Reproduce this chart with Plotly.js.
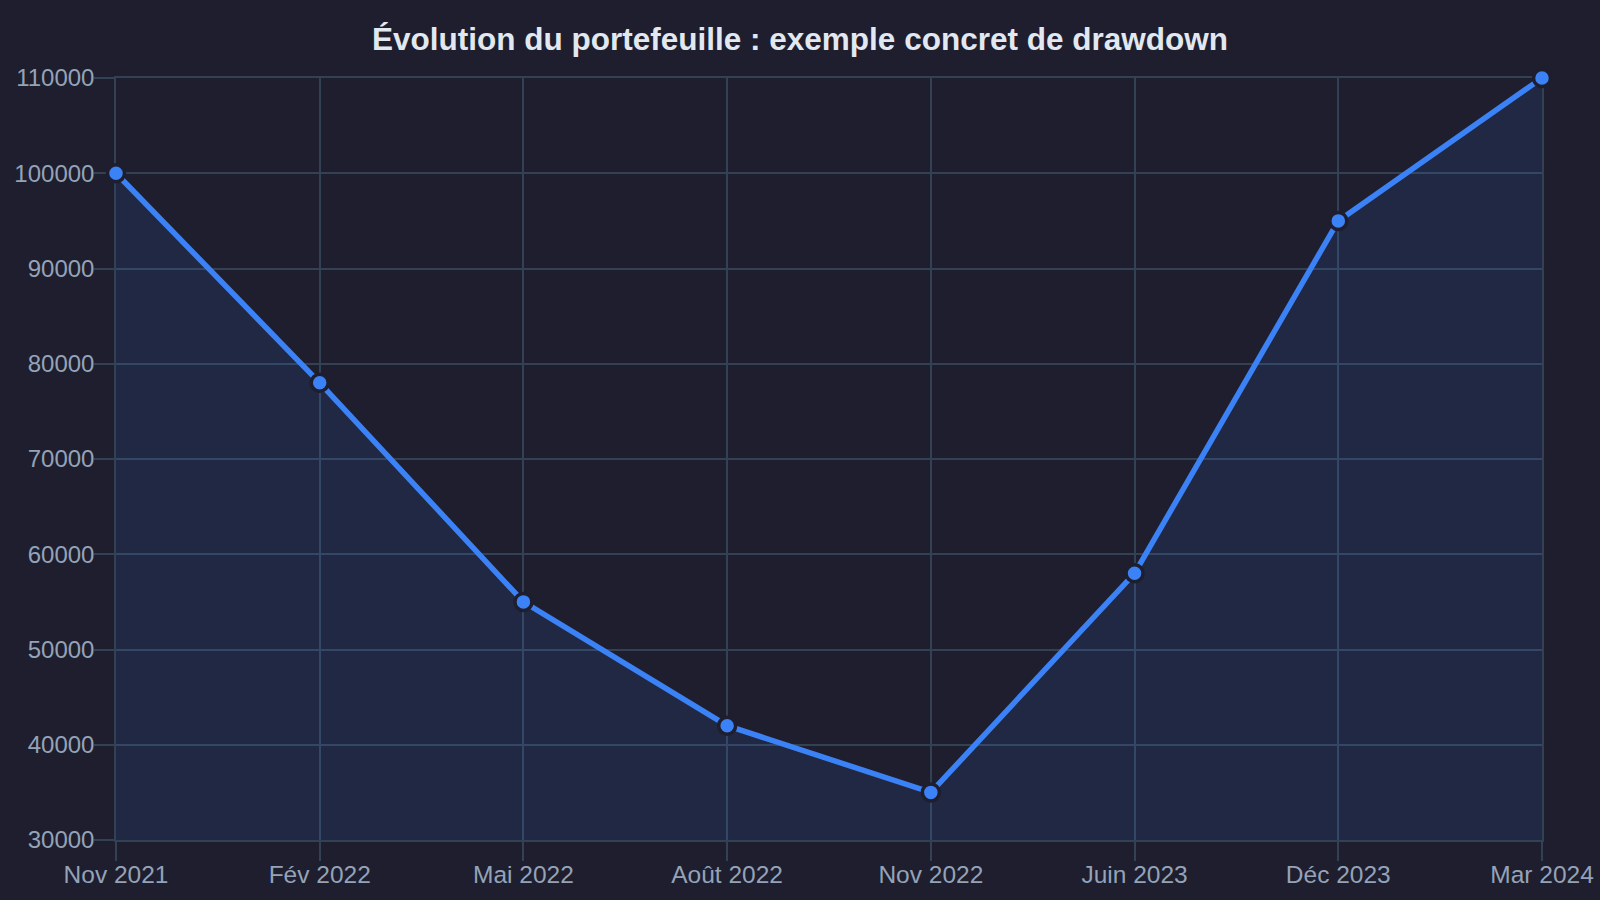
<!DOCTYPE html>
<html>
<head>
<meta charset="utf-8">
<script src="https://cdn.plot.ly/plotly-3.0.1.min.js"></script>
<style>html,body{margin:0;padding:0;background:#1e1e2e;}#chart{width:1600px;height:900px;}</style>
</head>
<body>
<div id="chart"></div>
<script>
const categories = ["Nov 2021", "Fév 2022", "Mai 2022", "Août 2022", "Nov 2022", "Juin 2023", "Déc 2023", "Mar 2024"];
const values = [100000, 78000, 55000, 42000, 35000, 58000, 95000, 110000];
const yTicks = [30000, 40000, 50000, 60000, 70000, 80000, 90000, 100000, 110000];

const trace = {
  x: categories,
  y: values,
  type: 'scatter',
  mode: 'lines+markers',
  fill: 'tozeroy',
  fillcolor: 'rgba(59,130,246,0.11)',
  line: {color: '#3b82f6', width: 5.5},
  marker: {color: '#3b82f6', size: 17, line: {color: '#1e1e2e', width: 3.5}},
  cliponaxis: false,
  hoverinfo: 'x+y'
};

const layout = {
  width: 1600, height: 900,
  paper_bgcolor: '#1e1e2e',
  plot_bgcolor: '#1e1e2e',
  margin: {l: 116, r: 58, t: 78, b: 60},
  showlegend: false,
  font: {family: 'Liberation Sans, Arial, sans-serif', color: '#94a3b8', size: 24},
  title: {text: 'Évolution du portefeuille : exemple concret de drawdown', x: 0.5, xanchor: 'center', y: 0.957, yanchor: 'middle',
          font: {family: 'Liberation Sans, Arial, sans-serif', size: 31.5, color: '#e2e8f0', weight: 'bold'}},
  xaxis: {
    type: 'category', range: [0, 7],
    showgrid: true, gridcolor: '#334155', gridwidth: 1.5,
    ticks: 'outside', ticklen: 19, tickcolor: '#334155', tickwidth: 1.5,
    showline: true, mirror: true, linecolor: '#334155', linewidth: 1.5,
    zeroline: false, ticklabelstandoff: -7, layer: 'below traces',
    tickfont: {size: 24.5, color: '#94a3b8'}
  },
  yaxis: {
    range: [30000, 110000],
    tickvals: yTicks, ticktext: yTicks.map(String),
    showgrid: true, gridcolor: '#334155', gridwidth: 1.5,
    ticks: 'outside', ticklen: 20, tickcolor: '#334155', tickwidth: 1.5,
    showline: true, mirror: true, linecolor: '#334155', linewidth: 1.5,
    zeroline: false, ticklabelstandoff: -5, layer: 'below traces',
    tickfont: {size: 24, color: '#94a3b8'}
  }
};

Plotly.newPlot('chart', [trace], layout, {displayModeBar: false, responsive: false});
</script>
</body>
</html>
